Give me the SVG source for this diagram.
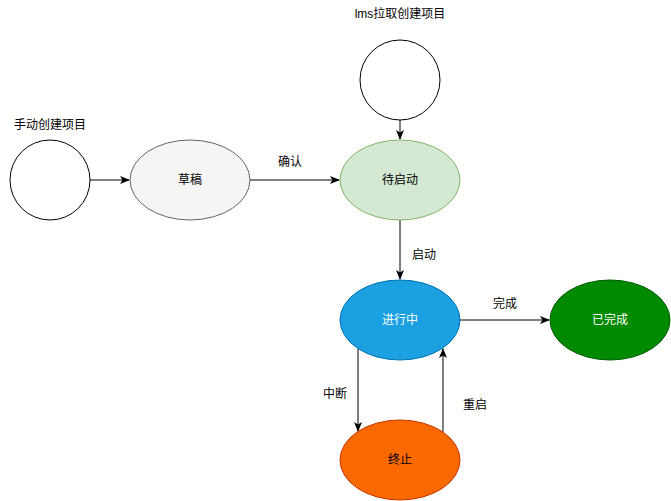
<svg xmlns="http://www.w3.org/2000/svg" width="671" height="501" viewBox="0 0 671 501">
<style>
text{font-family:"Liberation Sans","Noto Sans CJK SC",sans-serif;font-size:12px;text-anchor:middle;dominant-baseline:central;fill:#000}
.w{fill:#fff}
.e{fill:none;stroke:#000;stroke-width:1}
</style>
<defs>
<marker id="a" viewBox="0 0 10 8" refX="9" refY="4" markerWidth="10" markerHeight="8" markerUnits="userSpaceOnUse" orient="auto">
<path d="M0,0 L10,4 L0,8 L2.5,4 Z" fill="#000"/>
</marker>
</defs>
<rect width="671" height="501" fill="#fff"/>
<g id="edges">
<line class="e" x1="90" y1="180" x2="129" y2="180" marker-end="url(#a)"/>
<line class="e" x1="250" y1="180" x2="339" y2="180" marker-end="url(#a)"/>
<text x="290" y="162">确认</text>
<line class="e" x1="400" y1="120" x2="400" y2="139" marker-end="url(#a)"/>
<line class="e" x1="400" y1="220" x2="400" y2="279" marker-end="url(#a)"/>
<text x="424" y="255">启动</text>
<line class="e" x1="460" y1="320" x2="549" y2="320" marker-end="url(#a)"/>
<text x="505" y="304">完成</text>
<line class="e" x1="358" y1="349" x2="358" y2="431" marker-end="url(#a)"/>
<text x="335" y="394">中断</text>
<line class="e" x1="443" y1="432" x2="443" y2="349" marker-end="url(#a)"/>
<text x="475" y="405">重启</text>
</g>
<g id="start-manual">
<ellipse cx="50" cy="180" rx="40" ry="40" fill="#fff" stroke="#000"/>
<text x="50" y="125">手动创建项目</text>
</g>
<g id="start-lms">
<ellipse cx="400" cy="80" rx="40" ry="40" fill="#fff" stroke="#000"/>
<text x="400" y="14">lms拉取创建项目</text>
</g>
<g id="draft">
<ellipse cx="190" cy="180" rx="60" ry="40" fill="#f5f5f5" stroke="#666666"/>
<text x="190" y="180">草稿</text>
</g>
<g id="pending">
<ellipse cx="400" cy="180" rx="60" ry="40" fill="#d5e8d4" stroke="#82b366"/>
<text x="400" y="180">待启动</text>
</g>
<g id="inprogress">
<ellipse cx="400" cy="320" rx="60" ry="40" fill="#1ba1e2" stroke="#006eaf"/>
<text class="w" x="400" y="320">进行中</text>
</g>
<g id="done">
<ellipse cx="610" cy="320" rx="60" ry="40" fill="#008a00" stroke="#005700"/>
<text class="w" x="610" y="320">已完成</text>
</g>
<g id="stopped">
<ellipse cx="400" cy="460" rx="60" ry="40" fill="#fa6800" stroke="#c73500"/>
<text x="400" y="460">终止</text>
</g>
</svg>
